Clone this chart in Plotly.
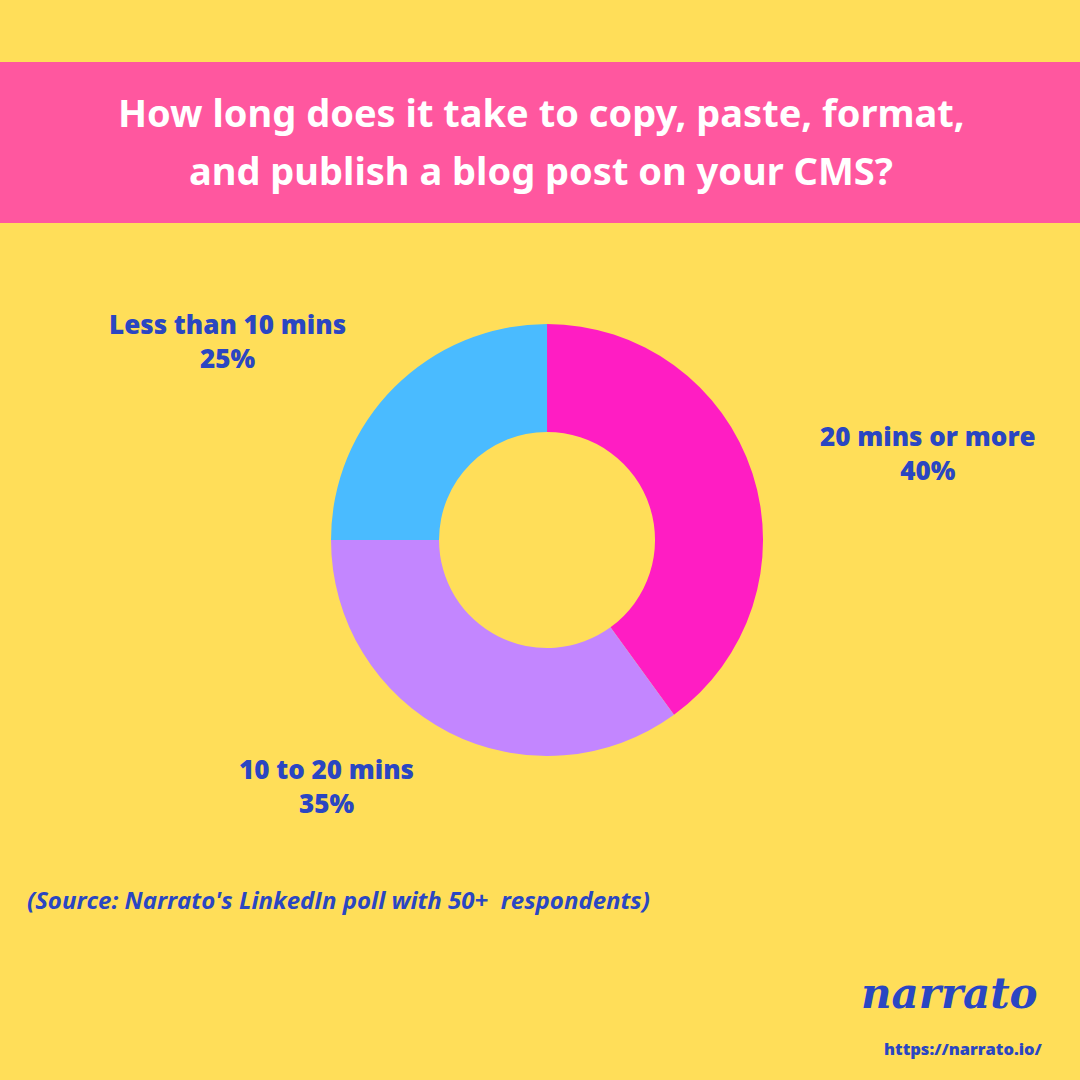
import plotly.graph_objects as go

# Poll answers, shares (%) and slice colours
answers = ['20 mins or more', '10 to 20 mins', 'Less than 10 mins']
shares = [40, 35, 25]
slice_colors = ['#FF1DC3', '#C386FF', '#4ABBFF']

title_lines = ['How long does it take to copy, paste, format,',
               'and publish a blog post on your CMS?']
source = "(Source: Narrato's LinkedIn poll with 50+  respondents)"

yellow = '#FFDE59'
banner_pink = '#FF579F'
ink = '#2A46C2'

fig = go.Figure(go.Pie(
    labels=answers,
    values=shares,
    marker=dict(colors=slice_colors, line=dict(width=0)),
    hole=0.5,
    sort=False,
    direction='clockwise',
    rotation=0,
    textinfo='none',
    hoverinfo='label+percent',
    domain=dict(x=[0.3065, 0.7065], y=[0.3, 0.7]),
    showlegend=False,
))


def px_to_paper(x, y):
    return x / 1080, 1 - y / 1080


# label positions (pixel centres) for each answer
label_pos = {
    '20 mins or more': (928, 453),
    '10 to 20 mins': (326, 786),
    'Less than 10 mins': (227, 341),
}
for answer, share in zip(answers, shares):
    x, y = px_to_paper(*label_pos[answer])
    fig.add_annotation(
        x=x, y=y, xref='paper', yref='paper',
        xanchor='center', yanchor='middle',
        text=f'{answer}<br>{share}%',
        showarrow=False, align='center',
        font=dict(family='Open Sans', size=26, color=ink, weight=800),
    )

# pink title banner
fig.add_shape(type='rect', xref='paper', yref='paper',
              x0=0, x1=1, y0=1 - 223 / 1080, y1=1 - 62 / 1080,
              fillcolor=banner_pink, line=dict(width=0), layer='below')

for line, ypix in zip(title_lines, [112, 170]):
    x, y = px_to_paper(541, ypix)
    fig.add_annotation(
        x=x, y=y, xref='paper', yref='paper',
        xanchor='center', yanchor='middle',
        text=line, showarrow=False, align='center',
        font=dict(family='Noto Sans', size=38, color='white', weight=700),
    )

x, y = px_to_paper(25, 899)
fig.add_annotation(
    x=x, y=y, xref='paper', yref='paper', xanchor='left', yanchor='middle',
    text=f'<i>{source}</i>', showarrow=False,
    font=dict(family='Open Sans', size=24, color=ink, weight=700),
)

# logo and url
x, y = px_to_paper(1040, 993)
fig.add_annotation(
    x=x, y=y, xref='paper', yref='paper', xanchor='right', yanchor='middle',
    text='<i>narrato</i>', showarrow=False,
    font=dict(family='DejaVu Serif', size=42, color=ink, weight=700),
)
x, y = px_to_paper(1045, 1048)
fig.add_annotation(
    x=x, y=y, xref='paper', yref='paper', xanchor='right', yanchor='middle',
    text='https://narrato.io/', showarrow=False,
    font=dict(family='Open Sans', size=16.5, color=ink, weight=800),
)

fig.update_layout(
    width=1080, height=1080,
    margin=dict(l=0, r=0, t=0, b=0),
    paper_bgcolor=yellow,
    plot_bgcolor=yellow,
)

fig.write_html('out.html', config={'displayModeBar': False},
               post_script="document.body.style.margin='0';")
